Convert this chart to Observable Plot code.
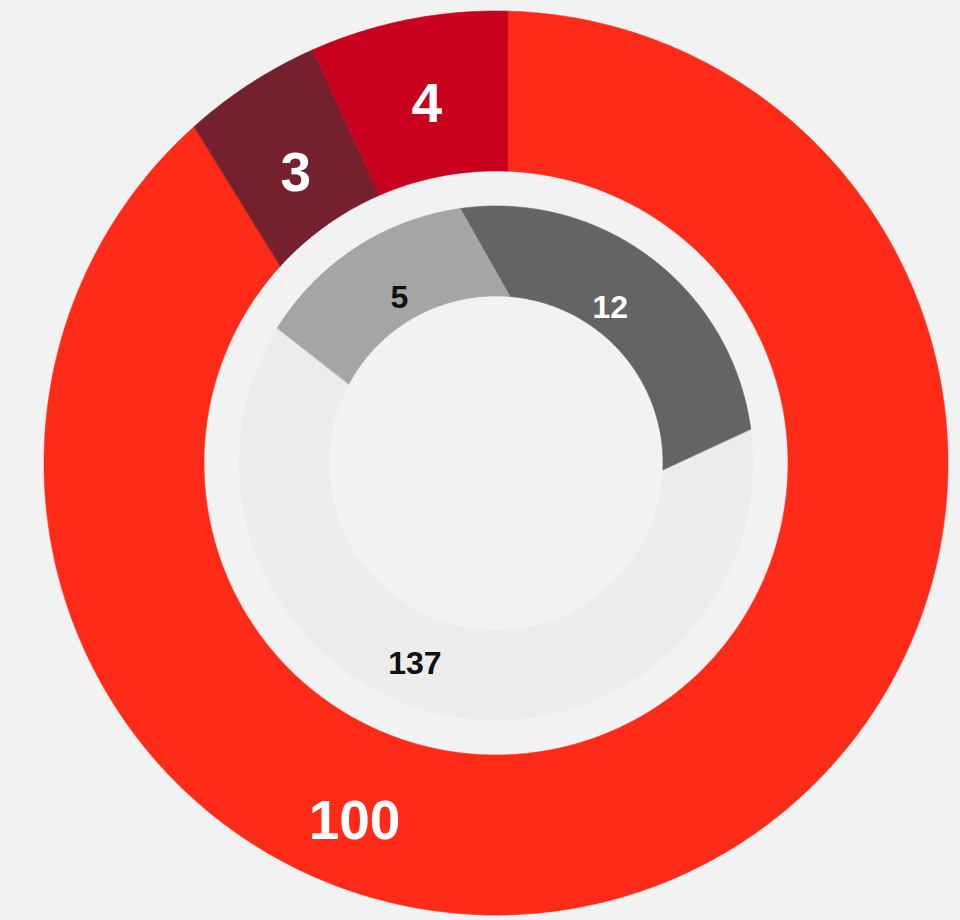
<!DOCTYPE html>
<html>
<head>
<meta charset="utf-8">
<script src="https://cdn.jsdelivr.net/npm/d3@7"></script>
<script src="https://cdn.jsdelivr.net/npm/@observablehq/plot@0.6"></script>
<style>
  html, body { margin: 0; padding: 0; background: #f2f2f2; }
  #chart svg { display: block; }
</style>
</head>
<body>
<div id="chart"></div>
<script>
// ---- data ----
const outerValues = [100, 3, 4];
// slice boundary angles (deg, clockwise from 12 o'clock) as drawn, at the ring's outer and inner edge
const outerBoundsAtOuterEdge = [1.5, 318.1, 336.1, 361.5];
const outerBoundsAtInnerEdge = [2.3, 312.4, 336.5, 362.3];
const innerValues = [12, 137, 5];
const innerBoundsAtOuterEdge = [-8.0, 82.6, 301.7, 352.0];
const innerBoundsAtInnerEdge = [4.8, 92.7, 298.2, 364.8];

// ---- styles / layout ----
const outerColors = ["#ff2b19", "#74202d", "#c8001e"];
const outerTextColors = ["#ffffff", "#ffffff", "#ffffff"];
const innerColors = ["#646464", "#ececec", "#a5a5a5"];
const innerTextColors = ["#ffffff", "#111111", "#111111"];
const outerLabelFrac = [0.638, 0.49, 0.5];
const innerLabelFrac = [0.42, 0.54, 0.51];
const outerLabelRadius = [382, 355, 369];
const innerLabelRadius = [194, 215, 193];

const W = 960, H = 920;
const cx = 496, cy = 463;
const R1 = 452, r1 = 292;   // outer ring radii
const R2 = 257, r2 = 167;   // inner ring radii

function slices(ring, values, bOut, bIn, colors, textColors, fracs, radii) {
  return values.map((v, i) => {
    const m0 = (bOut[i] + bIn[i]) / 2, m1 = (bOut[i + 1] + bIn[i + 1]) / 2;
    return {key: ring + i, value: v,
            o0: bOut[i], o1: bOut[i + 1], i0: bIn[i], i1: bIn[i + 1],
            color: colors[i], textColor: textColors[i],
            labelAngle: m0 + (m1 - m0) * fracs[i], labelRadius: radii[i]};
  });
}
function arcPoints(sl, rOut, rIn) {
  const rad = Math.PI / 180;
  return sl.flatMap(s => {
    const n = Math.max(2, Math.ceil(Math.max(s.o1 - s.o0, s.i1 - s.i0) / 0.5));
    return d3.range(n + 1).map(k => {
      const to = (s.o0 + (s.o1 - s.o0) * k / n) * rad;
      const ti = (s.i0 + (s.i1 - s.i0) * k / n) * rad;
      return {key: s.key, color: s.color,
              x1: cx + rOut * Math.sin(to), y1: cy - rOut * Math.cos(to),
              x2: cx + rIn * Math.sin(ti), y2: cy - rIn * Math.cos(ti)};
    });
  });
}
function labelPoints(sl) {
  return sl.map(s => {
    const t = s.labelAngle * Math.PI / 180;
    return {text: String(s.value), color: s.textColor,
            x: cx + s.labelRadius * Math.sin(t), y: cy - s.labelRadius * Math.cos(t)};
  });
}

const outer = slices("o", outerValues, outerBoundsAtOuterEdge, outerBoundsAtInnerEdge, outerColors, outerTextColors, outerLabelFrac, outerLabelRadius);
const inner = slices("i", innerValues, innerBoundsAtOuterEdge, innerBoundsAtInnerEdge, innerColors, innerTextColors, innerLabelFrac, innerLabelRadius);

const plot = Plot.plot({
  width: W, height: H,
  margin: 0,
  x: {domain: [0, W], range: [0, W], axis: null},
  y: {domain: [0, H], range: [0, H], axis: null},
  color: {type: "identity"},
  style: {background: "#f2f2f2", fontFamily: "'Liberation Sans', Arial, sans-serif"},
  marks: [
    Plot.area(arcPoints(outer, R1, r1), {x1: "x1", y1: "y1", x2: "x2", y2: "y2", z: "key", fill: "color", stroke: "color", strokeWidth: 0.6}),
    Plot.area(arcPoints(inner, R2, r2), {x1: "x1", y1: "y1", x2: "x2", y2: "y2", z: "key", fill: "color", stroke: "color", strokeWidth: 0.6}),
    Plot.text(labelPoints(outer), {x: "x", y: "y", text: "text", fill: "color", fontSize: 55, fontWeight: "bold", dy: 3}),
    Plot.text(labelPoints(inner), {x: "x", y: "y", text: "text", fill: "color", fontSize: 32, fontWeight: "bold", dy: 1})
  ]
});
document.getElementById("chart").appendChild(plot);
</script>
</body>
</html>
